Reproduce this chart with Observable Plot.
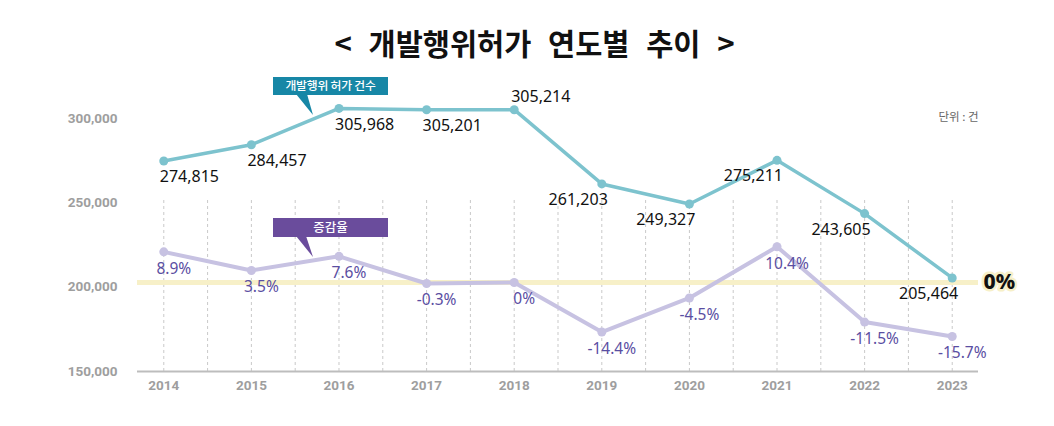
<!DOCTYPE html>
<html><head><meta charset="utf-8">
<script src="https://cdn.jsdelivr.net/npm/d3@7"></script>
<script src="https://cdn.jsdelivr.net/npm/@observablehq/plot@0.6"></script>
<style>
body{margin:0;background:#fff;}
#wrap{position:relative;width:1054px;height:426px;overflow:hidden;}
#title{height:70px;box-sizing:border-box;padding-top:23px;padding-left:15px;text-align:center;font-family:"Noto Sans CJK KR",sans-serif;font-weight:700;font-size:29.5px;line-height:38px;color:#111;word-spacing:10px;white-space:pre;}
</style></head><body>
<div id="wrap"><div id="title"></div><div id="chart"></div></div>
<script>
// ---- data ----
const titleText = "< 개발행위허가 연도별 추이 >";
const years = [2014, 2015, 2016, 2017, 2018, 2019, 2020, 2021, 2022, 2023];
const counts = [274815, 284457, 305968, 305201, 305214, 261203, 249327, 275211, 243605, 205464];
const rates = [8.9, 3.5, 7.6, -0.3, 0, -14.4, -4.5, 10.4, -11.5, -15.7];
const rateLabels = ["8.9%", "3.5%", "7.6%", "-0.3%", "0%", "-14.4%", "-4.5%", "10.4%", "-11.5%", "-15.7%"];
const yTicks = [150000, 200000, 250000, 300000];
const countSeriesName = "개발행위 허가 건수";
const rateSeriesName = "증감율";
const unitLabel = "단위 : 건";
const zeroLabel = "0%";

// label placement groups (layout)
const labelsBelowStart = [2014, 2015, 2016, 2017];
const labelsAbove = [2018];
const labelsBelowEnd = [2019, 2020, 2021, 2022, 2023];

document.getElementById("title").textContent = titleText;

// secondary (rate) axis mapped into the count domain
const rateZero = 202770, rateStep = 2040;
const toY = r => rateZero + r * rateStep;

const countData = years.map((year, i) => ({year, value: counts[i], label: d3.format(",")(counts[i])}));
const rateData = years.map((year, i) => ({year, rate: rates[i], y: toY(rates[i]), label: rateLabels[i]}));
const grid = d3.range(years[0], years[years.length - 1] + 0.01, 0.5);

const cText = {fill: "#111", fontSize: 16, fontFamily: "'Noto Sans', sans-serif"};

const plot = Plot.plot({
  width: 1054, height: 356,
  marginLeft: 137, marginRight: 76, marginTop: 48, marginBottom: 55,
  x: {type: "linear", domain: [2013.7, 2023.3], axis: null},
  y: {domain: [150000, 300000], axis: null},
  style: {fontFamily: "'Noto Sans', 'Noto Sans CJK KR', sans-serif", background: "transparent"},
  marks: [
    Plot.ruleX(grid, {x: d => d, y1: 150000, y2: 251400, stroke: "#c9c9c9", strokeDasharray: "3,3", strokeWidth: 1}),
    Plot.ruleY([toY(0)], {stroke: "#f7f0c8", strokeWidth: 5}),
    Plot.ruleY([150000], {stroke: "#bdbdbd", strokeWidth: 2}),
    Plot.axisY({ticks: yTicks, tickFormat: d3.format(","), tickSize: 0, tickPadding: 20, fontSize: 13.5, color: "#9e9e9e", label: null}),
    Plot.axisX({ticks: years, tickFormat: d => String(d), tickSize: 0, tickPadding: 9, fontSize: 13.5, color: "#9e9e9e", label: null}),
    Plot.line(rateData, {x: "year", y: "y", stroke: "#c7c2e2", strokeWidth: 4}),
    Plot.dot(rateData, {x: "year", y: "y", r: 4.5, fill: "#c7c2e2"}),
    Plot.line(countData, {x: "year", y: "value", stroke: "#7dc3ce", strokeWidth: 3.5}),
    Plot.dot(countData, {x: "year", y: "value", r: 4.5, fill: "#7dc3ce"}),
    Plot.text(rateData, {x: "year", y: "y", text: "label", dx: 10, dy: 17, fill: "#5a4ea2", fontSize: 15.5, fontFamily: "'Noto Sans', sans-serif"}),
    Plot.text(countData.filter(d => labelsBelowStart.includes(d.year)), {x: "year", y: "value", text: "label", textAnchor: "start", dx: -4, dy: 16, ...cText}),
    Plot.text(countData.filter(d => labelsAbove.includes(d.year)), {x: "year", y: "value", text: "label", textAnchor: "start", dx: -3, dy: -13, ...cText}),
    Plot.text(countData.filter(d => labelsBelowEnd.includes(d.year)), {x: "year", y: "value", text: "label", textAnchor: "end", dx: 6, dy: 16, ...cText}),
    Plot.text([zeroLabel], {frameAnchor: "right", y: toY(0), textAnchor: "start", dx: 5, fontSize: 21, fontWeight: 800, fill: "#111", stroke: "#f7f0c8", strokeWidth: 5, fontFamily: "'Noto Sans', sans-serif"}),
    Plot.text([unitLabel], {frameAnchor: "top-right", lineAnchor: "middle", textAnchor: "end", dy: -1, fontSize: 11.5, fill: "#666", fontFamily: "'Noto Sans CJK KR', sans-serif"})
  ]
});
document.getElementById("chart").appendChild(plot);

const svg = d3.select(plot);
svg.selectAll('[aria-label="y-axis tick label"] text, [aria-label="x-axis tick label"] text')
  .attr("font-weight", "bold").attr("font-family", "Roboto, sans-serif").attr("fill", "#9e9e9e");

// callout boxes
function callout(x, y, w, h, color, text, tip, baseL, baseR, fs, ls) {
  const g = svg.append("g");
  g.append("polygon").attr("points", `${baseL},${y + h - 1} ${baseR},${y + h - 1} ${tip[0]},${tip[1]}`).attr("fill", color);
  g.append("rect").attr("x", x).attr("y", y).attr("width", w).attr("height", h).attr("fill", color);
  g.append("text").attr("x", x + w / 2).attr("y", y + h / 2).attr("dy", "0.35em").attr("text-anchor", "middle")
    .attr("fill", "#fff").attr("font-size", fs).attr("letter-spacing", ls).attr("font-weight", 500)
    .attr("font-family", "'Noto Sans CJK KR', sans-serif").text(text);
}
callout(273, 7, 115, 18, "#1787a6", countSeriesName, [313, 45], 296, 307, 11.8, -0.2);
callout(273, 148, 115, 19, "#6a4c9c", rateSeriesName, [313, 187], 296, 306, 12.5, 0);
</script>
</body></html>
